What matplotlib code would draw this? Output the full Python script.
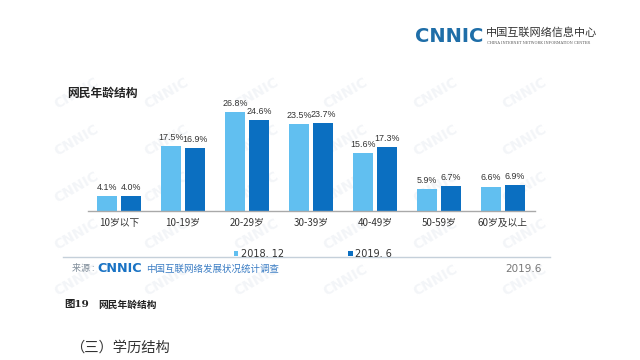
import matplotlib

matplotlib.use("Agg")

import matplotlib.pyplot as plt
import numpy as np

plt.rcParams["font.family"] = ["Noto Sans CJK SC", "DejaVu Sans"]

# data
age_groups = ["10岁以下", "10-19岁", "20-29岁", "30-39岁", "40-49岁", "50-59岁", "60岁及以上"]
share_2018_12 = [4.1, 17.5, 26.8, 23.5, 15.6, 5.9, 6.6]
share_2019_6 = [4.0, 16.9, 24.6, 23.7, 17.3, 6.7, 6.9]
series_labels = ["2018. 12", "2019. 6"]

LIGHT = "#61bff0"
DARK = "#0b6fc1"

fig = plt.figure(figsize=(6.4, 3.6), dpi=100)
fig.patch.set_facecolor("white")

# faint diagonal watermarks behind the chart
for wx in np.arange(0.12, 0.92, 0.14):
    for wy in np.arange(0.22, 0.86, 0.13):
        fig.text(wx, wy, "CNNIC", fontsize=10, fontweight="bold", color="#f3f5f8",
                 rotation=30, ha="center", va="center", family="DejaVu Sans", zorder=0)

# axes placed so the baseline sits at y=211px and the categories span 88..535px
ax = fig.add_axes([88 / 640, 1 - 211 / 360, 447 / 640, 111 / 360])
ax.set_zorder(2)
ax.patch.set_alpha(0)

x = np.arange(len(age_groups))
width = 0.3125
b1 = ax.bar(x - 0.1875, share_2018_12, width, color=LIGHT, label=series_labels[0], zorder=2)
b2 = ax.bar(x + 0.1875, share_2019_6, width, color=DARK, label=series_labels[1], zorder=2)

for bars in (b1, b2):
    ax.bar_label(bars, labels=[f"{v:.1f}%" for v in bars.datavalues], padding=3,
                 fontsize=6.4, color="#333333", family="Liberation Sans")

ax.set_xlim(-0.484, 6.5)
ax.set_ylim(0, 30)
ax.set_xticks(x)
ax.set_xticklabels(age_groups, fontsize=7, color="#333333")
ax.tick_params(axis="x", length=0, pad=5)
ax.set_yticks([])
for side in ("top", "right", "left"):
    ax.spines[side].set_visible(False)
ax.spines["bottom"].set_color("#a9a9a9")
ax.spines["bottom"].set_linewidth(1.0)

leg = ax.legend(loc="center", bbox_to_anchor=(0.489, 0.294), bbox_transform=fig.transFigure,
                ncol=2, frameon=False, fontsize=7, handlelength=0.5, handleheight=0.5,
                handletextpad=0.3, columnspacing=6.5)
for t in leg.get_texts():
    t.set_color("#333333")
    t.set_family("Liberation Sans Narrow")

# chart title
fig.text(67 / 640, 1 - 93 / 360, "网民年龄结构", fontsize=8.5, fontweight="bold",
         color="#222222", ha="left", va="center")

# header logo
fig.text(415 / 640, 1 - 37 / 360, "CNNIC", fontsize=14, fontweight="heavy", color="#1f6ea8",
         ha="left", va="center", family="DejaVu Sans")
fig.text(486 / 640, 1 - 33 / 360, "中国互联网络信息中心", fontsize=8, color="#333333",
         ha="left", va="center")
fig.text(487 / 640, 1 - 43 / 360, "CHINA INTERNET NETWORK INFORMATION CENTER", fontsize=2.6,
         color="#555555", ha="left", va="center", family="DejaVu Serif")

# footer rule and source line
fig.add_artist(plt.Line2D([63 / 640, 550 / 640], [1 - 257 / 360, 1 - 257 / 360],
                          color="#c5d0da", linewidth=1.0))
fig.text(72 / 640, 1 - 269 / 360, "来源 :", fontsize=6.5, color="#7f8c99", ha="left", va="center")
fig.text(97 / 640, 1 - 269 / 360, "CNNIC", fontsize=9.2, fontweight="heavy", color="#1a73c4",
         ha="left", va="center", family="DejaVu Sans")
fig.text(146 / 640, 1 - 269 / 360, "中国互联网络发展状况统计调查", fontsize=6.8, color="#3b7dc4",
         ha="left", va="center")
fig.text(542 / 640, 1 - 269 / 360, "2019.6", fontsize=7.5, color="#777777", ha="right", va="center",
         family="Liberation Sans Narrow")

# caption under the figure
fig.text(64 / 640, 1 - 305 / 360, "图19", fontsize=7.5, fontweight="bold", color="#222222",
         ha="left", va="center", family=["DejaVu Serif", "Noto Sans CJK SC"])
fig.text(98 / 640, 1 - 305 / 360, "网民年龄结构", fontsize=7, fontweight="bold", color="#222222",
         ha="left", va="center")
fig.text(70 / 640, 1 - 348 / 360, "（三）学历结构", fontsize=10.3, color="#333333",
         ha="left", va="center")

fig.savefig("out.png", dpi=100, facecolor="white")
